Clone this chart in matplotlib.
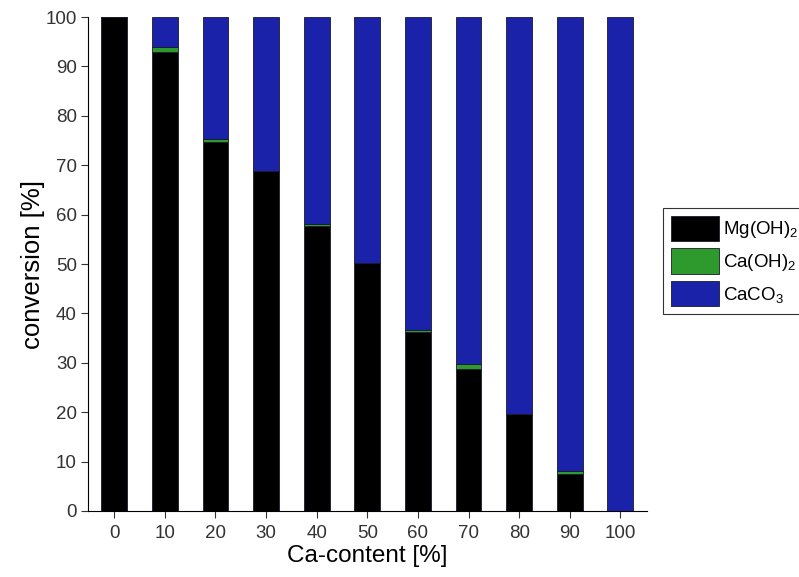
import numpy as np
import matplotlib
matplotlib.use("Agg")
import matplotlib.pyplot as plt

plt.rcParams['font.family'] = ['Liberation Sans', 'DejaVu Sans']
plt.rcParams['mathtext.fontset'] = 'custom'
plt.rcParams['mathtext.rm'] = 'Liberation Sans'
plt.rcParams['mathtext.it'] = 'Liberation Sans'

# Ca-content [%] and conversion shares [%]
ca_content = [0, 10, 20, 30, 40, 50, 60, 70, 80, 90, 100]
mg_oh2 = [100, 93.0, 74.8, 68.8, 57.6, 50.3, 36.2, 28.8, 19.7, 7.4, 0.0]
ca_oh2 = [0.0, 1.0, 0.5, 0.0, 0.5, 0.0, 0.4, 1.0, 0.0, 0.6, 0.0]
caco3 = [100 - a - b for a, b in zip(mg_oh2, ca_oh2)]

c_black = '#000000'
c_green = '#2e9a2e'
c_blue = '#1a22aa'

fig = plt.figure(figsize=(7.99, 5.77), dpi=100)
ax = fig.add_axes([0.110, 0.1144, 0.700, 0.8561])

x = np.arange(len(ca_content))
w = 0.51
mg = np.array(mg_oh2)
ca = np.array(ca_oh2)
cc = np.array(caco3)
edge = dict(edgecolor='#1a1a2a', linewidth=0.6)
ax.bar(x, mg, w, color=c_black, label='Mg(OH)$_2$', **edge)
ax.bar(x, ca, w, bottom=mg, color=c_green, label='Ca(OH)$_2$', **edge)
ax.bar(x, cc, w, bottom=mg + ca, color=c_blue, label='CaCO$_3$', **edge)

ax.set_xlim(-0.52, 10.53)
ax.set_ylim(0, 100)
ax.set_xticks(x)
ax.set_xticklabels([str(v) for v in ca_content])
ax.set_yticks(np.arange(0, 101, 10))
ax.spines['top'].set_visible(False)
ax.spines['right'].set_visible(False)
ax.tick_params(direction='out', length=5, width=0.8, labelsize=13.5,
               colors='#333333')
ax.tick_params(axis='x', pad=5)
ax.tick_params(axis='y', pad=3)
ax.set_xlabel('Ca-content [%]', fontsize=17.5, labelpad=2)
ax.set_ylabel('conversion [%]', fontsize=18.5, labelpad=0)

leg = fig.legend(loc='upper left', bbox_to_anchor=(663 / 799, 1 - 208 / 577),
                 fontsize=13.5, frameon=True, fancybox=False, edgecolor='black',
                 handlelength=2.6, handleheight=1.7, handletextpad=0.2,
                 borderpad=0.4, labelspacing=0.4, borderaxespad=0)
leg.get_frame().set_linewidth(0.8)

fig.savefig('out.png', dpi=100)
